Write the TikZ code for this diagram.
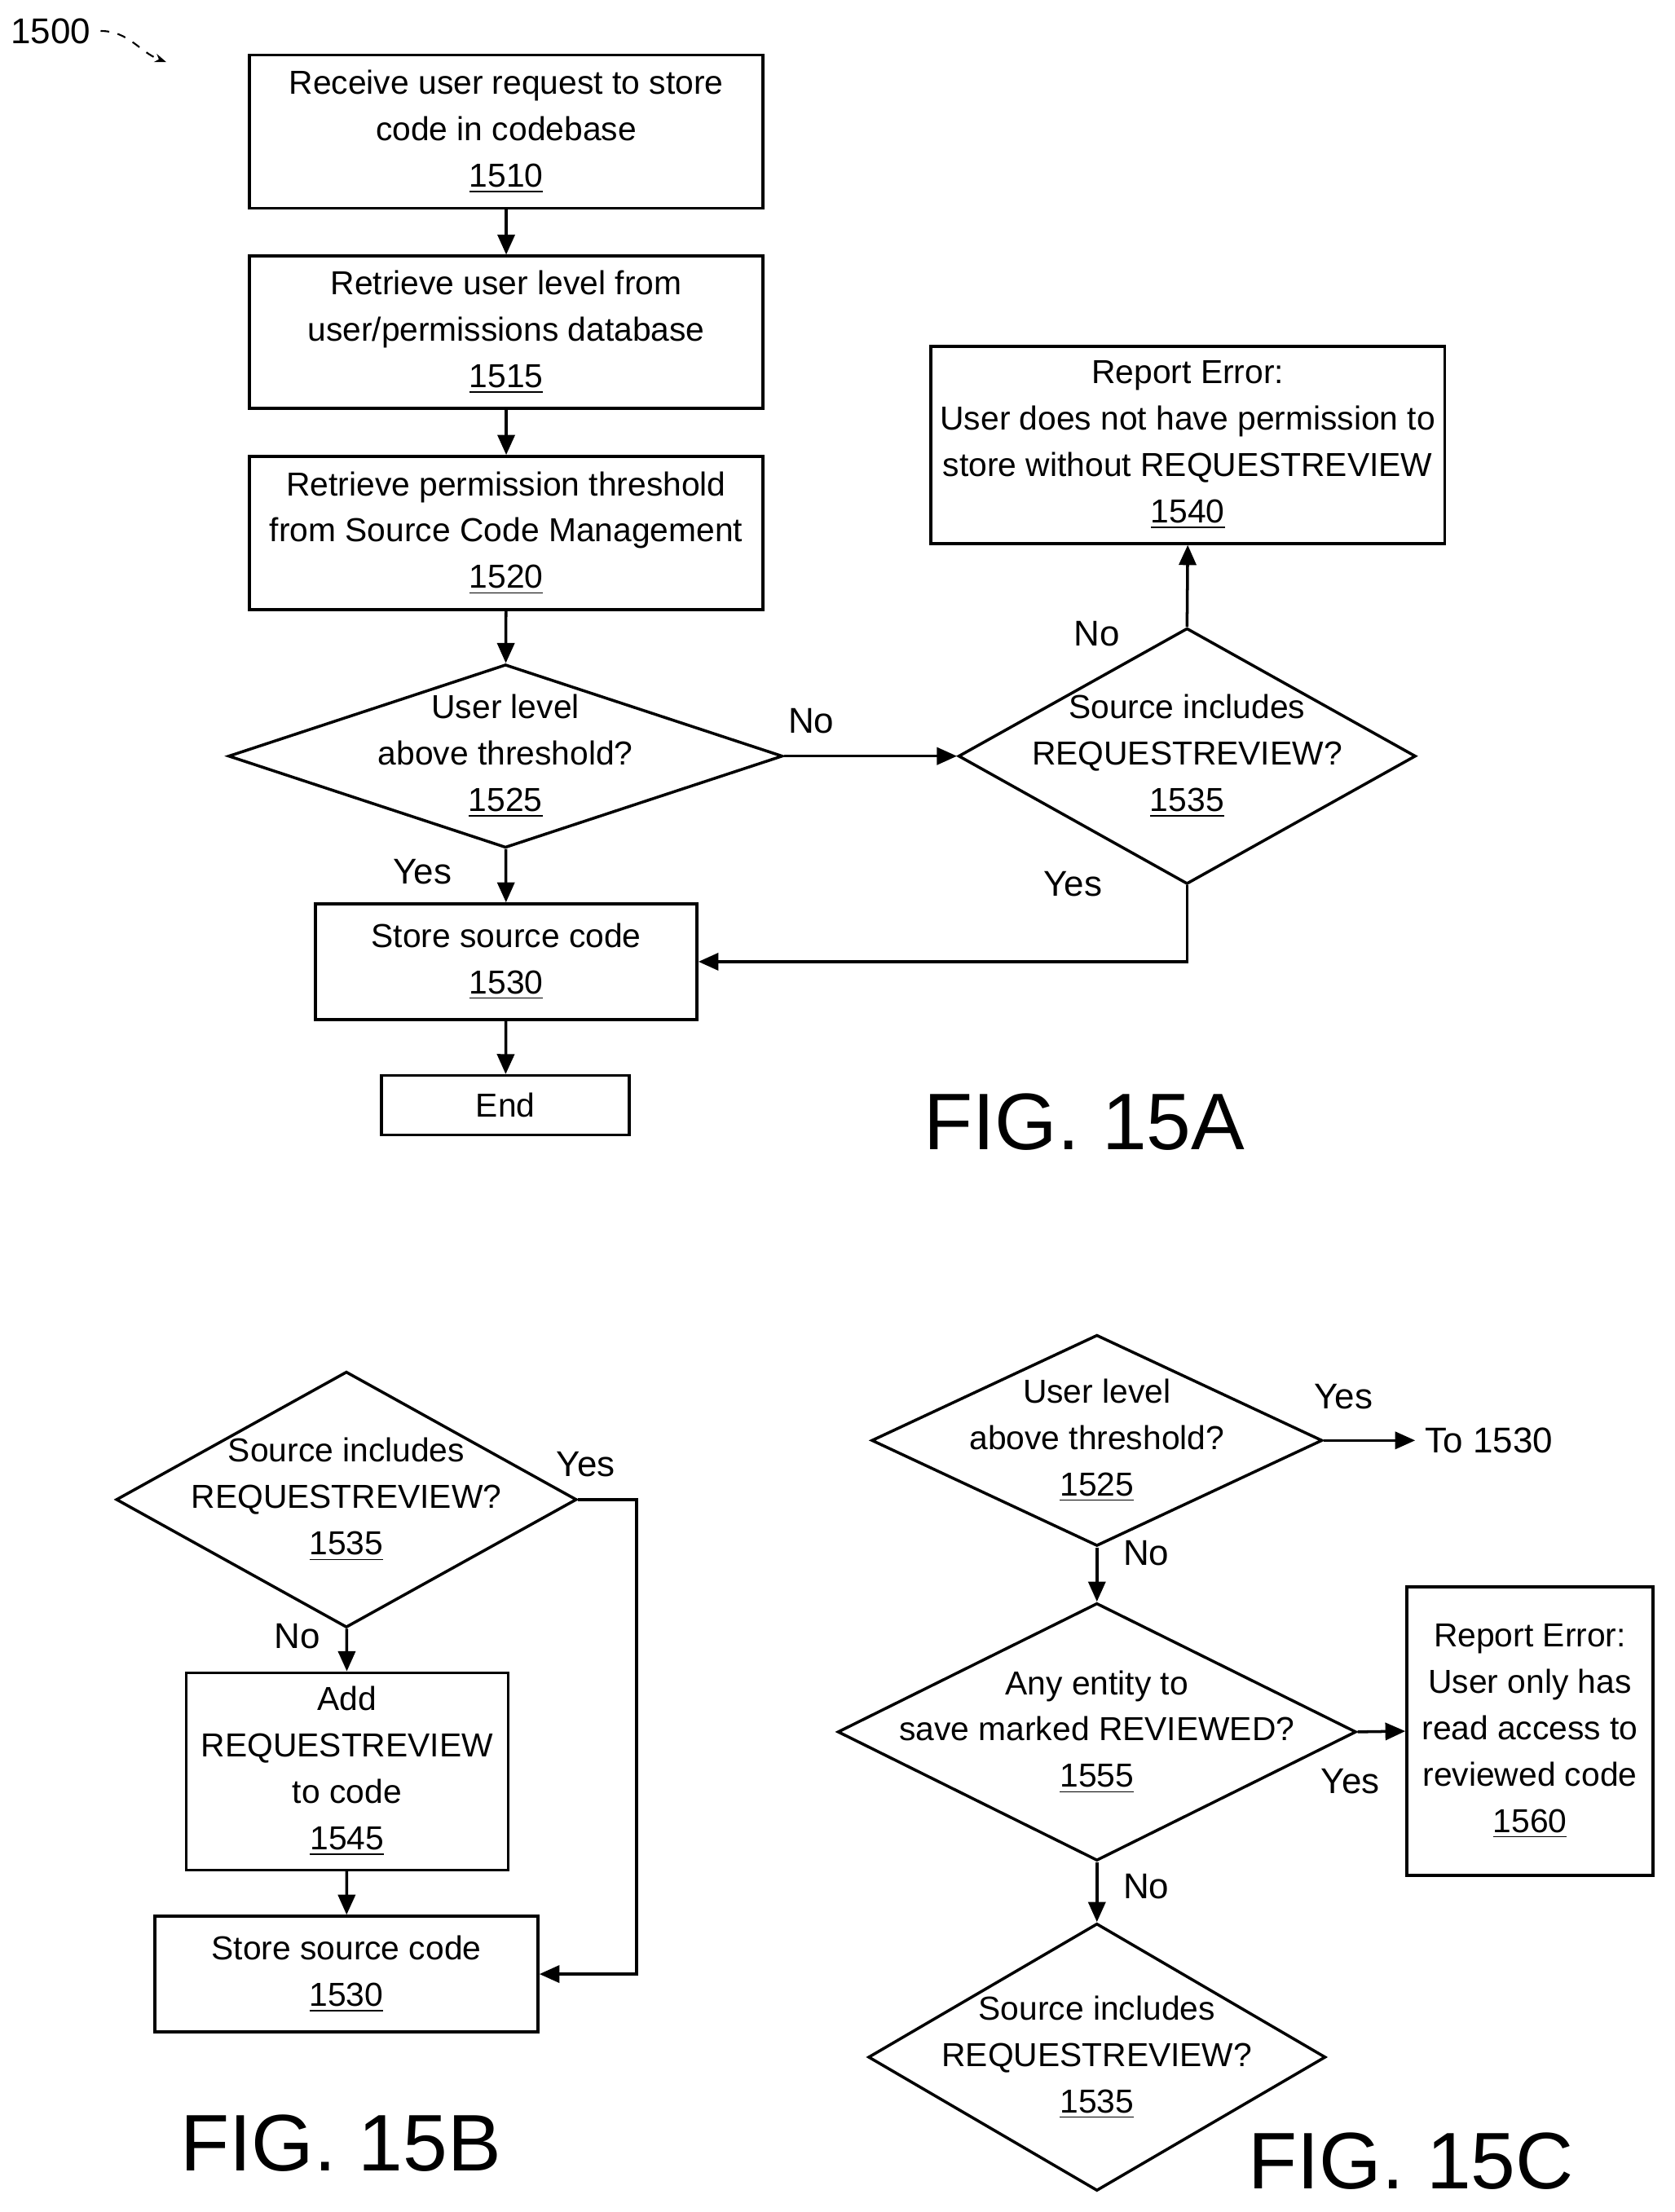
\documentclass[tikz,border=0pt]{standalone}
\usepackage{fontspec}
\setmainfont{Liberation Sans}
\usetikzlibrary{shapes.geometric, arrows.meta, positioning}

\begin{document}
\begin{tikzpicture}[
    x=0.01727cm, y=-0.01727cm,
    every node/.style={font=\fontsize{11.6}{16.2}\selectfont},
    process/.style={rectangle, draw, line width=1pt, align=center, inner sep=0pt},
    decision/.style={diamond, draw, line width=1pt, inner sep=0pt},
    dtext/.style={align=center, inner sep=0pt},
    arrow/.style={-{Triangle[length=7pt,width=6pt]}, line width=1pt},
    label/.style={font=\fontsize{12.5}{16}\selectfont},
    fig/.style={font=\fontsize{28}{34}\selectfont}
]
\useasboundingbox (0,0) rectangle (1189,1571);

% FIG. 15A
\node[font=\fontsize{12.5}{16}\selectfont] (num) at (36,22) {1500};
\coordinate (numtip) at (118,44);
\draw[-{Stealth[length=4pt]}, dashed, line width=0.6pt] (num.east) to[out=0,in=160] (numtip);

\node[process, minimum width=6.30cm, minimum height=1.88cm] (s1510) at (359.5,93.5)
    {Receive user request to store\\code in codebase\\\underline{1510}};
\node[process, minimum width=6.30cm, minimum height=1.87cm] (s1515) at (359.5,236)
    {Retrieve user level from\\user/permissions database\\\underline{1515}};
\node[process, minimum width=6.30cm, minimum height=1.88cm] (s1520) at (359.5,378.5)
    {Retrieve permission threshold\\from Source Code Management\\\underline{1520}};
\node[decision, minimum width=6.80cm, minimum height=2.25cm] (d1525) at (359,537) {};
\node[dtext] at (d1525) {User level\\above threshold?\\\underline{1525}};
\node[decision, minimum width=5.61cm, minimum height=3.14cm] (d1535) at (843,537) {};
\node[dtext] at (d1535) {Source includes\\REQUESTREVIEW?\\\underline{1535}};
\node[process, minimum width=6.30cm, minimum height=2.42cm] (s1540) at (843.5,316)
    {Report Error:\\User does not have permission to\\store without REQUESTREVIEW\\\underline{1540}};
\node[process, minimum width=4.68cm, minimum height=1.42cm] (s1530) at (359.5,683)
    {Store source code\\\underline{1530}};
\node[process, minimum width=3.04cm, minimum height=0.73cm] (end) at (359,785) {End};

\draw[arrow] (s1510) -- (s1515);
\draw[arrow] (s1515) -- (s1520);
\draw[arrow] (s1520) -- (d1525);
\draw[arrow] (d1525) -- (s1530);
\draw[arrow] (s1530) -- (end);
\draw[arrow] (d1525.east) -- (d1535.west);
\draw[arrow] (d1535.north) -- (s1540.south);
\draw[arrow] (d1535.south) |- (s1530.east);

\node[label] at (576,512) {No};
\node[label] at (779,450) {No};
\node[label] at (300,619) {Yes};
\node[label] at (762,628) {Yes};
\node[fig] at (770,797) {FIG. 15A};

% FIG. 15B
\node[decision, minimum width=5.65cm, minimum height=3.14cm] (b1535) at (246,1065) {};
\node[dtext] at (b1535) {Source includes\\REQUESTREVIEW?\\\underline{1535}};
\node[process, minimum width=3.95cm, minimum height=2.42cm] (b1545) at (246.5,1258)
    {Add\\REQUESTREVIEW\\to code\\\underline{1545}};
\node[process, minimum width=4.70cm, minimum height=1.42cm] (b1530) at (246,1402)
    {Store source code\\\underline{1530}};
\coordinate (bturn) at (452,1065);

\draw[arrow] (b1535) -- (b1545);
\draw[arrow] (b1545) -- (b1530);
\draw[arrow] (b1535.east) -- (bturn) |- (b1530.east);

\node[label] at (416,1040) {Yes};
\node[label] at (211,1162) {No};
\node[fig] at (242,1522) {FIG. 15B};

% FIG. 15C
\node[decision, minimum width=5.53cm, minimum height=2.59cm] (c1525) at (779,1023) {};
\node[dtext] at (c1525) {User level\\above threshold?\\\underline{1525}};
\node[label, anchor=west] (to1530) at (1005,1023) {To 1530};
\node[decision, minimum width=6.36cm, minimum height=3.16cm] (c1555) at (779,1230) {};
\node[dtext] at (c1555) {Any entity to\\save marked REVIEWED?\\\underline{1555}};
\node[process, minimum width=3.02cm, minimum height=3.54cm] (c1560) at (1086.5,1229.5)
    {Report Error:\\User only has\\read access to\\reviewed code\\\underline{1560}};
\node[decision, minimum width=5.61cm, minimum height=3.28cm] (c1535) at (779,1461) {};
\node[dtext] at (c1535) {Source includes\\REQUESTREVIEW?\\\underline{1535}};

\draw[arrow] (c1525.east) -- (to1530.west);
\draw[arrow] (c1525) -- (c1555);
\draw[arrow] (c1555.east) -- (c1560.west);
\draw[arrow] (c1555) -- (c1535);

\node[label] at (954,992) {Yes};
\node[label] at (814,1103) {No};
\node[label] at (959,1265) {Yes};
\node[label] at (814,1340) {No};
\node[fig] at (1002,1535) {FIG. 15C};
\end{tikzpicture}
\end{document}
